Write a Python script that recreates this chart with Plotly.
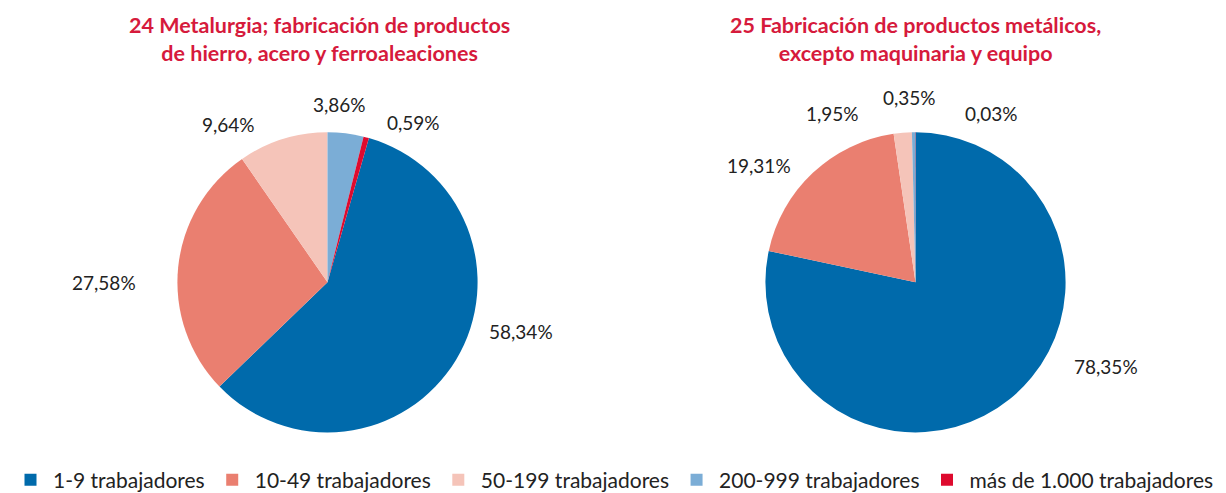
import plotly.graph_objects as go

categories = ["1-9 trabajadores", "10-49 trabajadores", "50-199 trabajadores",
              "200-999 trabajadores", "más de 1.000 trabajadores"]
values_24 = [58.34, 27.58, 9.64, 3.86, 0.59]
values_25 = [78.35, 19.31, 1.95, 0.35, 0.03]
title_24 = "24 Metalurgia; fabricación de productos<br>de hierro, acero y ferroaleaciones"
title_25 = "25 Fabricación de productos metálicos,<br>excepto maquinaria y equipo"

colors = ["#006aab", "#ea7f70", "#f5c4b9", "#7badd6", "#de0a2e"]

# page has 8px body margin; work in reference pixel coords minus offset
OFF = 8
W, H = 1226, 493


def px(x):
    return (x - OFF) / W


def py(y):
    return 1 - (y - OFF) / H


# label positions in reference pixels (layout only)
label_pos_24 = [(521, 333), (104, 284), (228, 125), (339, 105), (413, 123)]
label_pos_25 = [(1106, 369), (759, 166), (832, 114), (909, 98), (991, 114)]

R = 151
centers = [(327.5, 284), (915.5, 284)]


def fmt(v):
    return f"{v:.2f}".replace(".", ",") + "%"


def dom(c):
    cx, cy = c
    return dict(x=[px(cx - R), px(cx + R)], y=[py(cy + R), py(cy - R)])


fig = go.Figure()
rot24 = (values_24[3] + values_24[4]) / sum(values_24) * 360
fig.add_trace(go.Pie(
    labels=categories, values=values_24, sort=False, direction="clockwise",
    rotation=rot24, marker=dict(colors=colors, line=dict(width=0)),
    textinfo="none", hoverinfo="label+percent",
    domain=dom(centers[0]), showlegend=True,
))
fig.add_trace(go.Pie(
    labels=categories, values=values_25, sort=False, direction="clockwise",
    rotation=0, marker=dict(colors=colors, line=dict(width=0)),
    textinfo="none", hoverinfo="label+percent",
    domain=dom(centers[1]), showlegend=False,
))

annotations = []
for vals, pos in ((values_24, label_pos_24), (values_25, label_pos_25)):
    for v, (lx, ly) in zip(vals, pos):
        annotations.append(dict(
            text=fmt(v), x=px(lx), y=py(ly), xref="paper", yref="paper",
            showarrow=False, xanchor="center", yanchor="middle",
            font=dict(family="Lato", size=19, color="#222222"),
        ))

for t, cx in ((title_24, 319), (title_25, 915)):
    annotations.append(dict(
        text=f"<b>{t}</b>", x=px(cx), y=py(10), xref="paper", yref="paper",
        showarrow=False, xanchor="center", yanchor="top",
        font=dict(family="Lato", size=21.5, color="#d61a3c"),
    ))

fig.update_layout(
    width=W, height=H,
    margin=dict(l=0, r=0, t=0, b=0),
    paper_bgcolor="white", plot_bgcolor="white",
    annotations=annotations,
    legend=dict(orientation="h", x=px(8), xanchor="left", y=py(483), yanchor="middle",
                font=dict(family="Lato", size=21, color="#222222"),
                itemwidth=35,
                traceorder="normal"),
    font=dict(family="Lato"),
)

fig.write_html("out.html")
